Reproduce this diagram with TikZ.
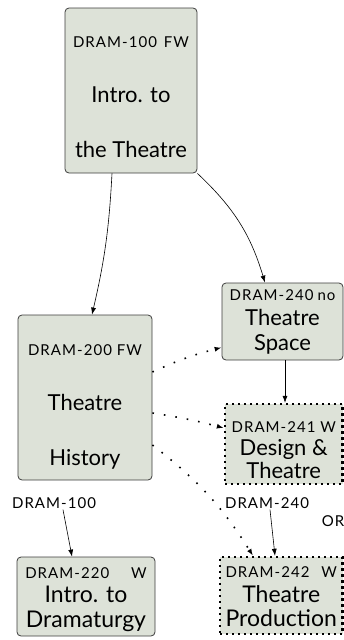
\documentclass[tikz,border=0pt]{standalone}
\usepackage{fontspec}
\setmainfont{Lato}
\usepackage{xcolor}
\usepackage{tikz}
\usetikzlibrary{arrows.meta, positioning}

\definecolor{boxfill}{RGB}{221,226,216}
\definecolor{boxline}{RGB}{60,60,60}

\newcommand{\crsfont}{\fontsize{15}{17}\selectfont\addfontfeature{LetterSpace=7}}
\newcommand{\crsid}[1]{{\crsfont#1}}
\newcommand{\tallstrut}[1]{\rule{0pt}{#1pt}}
\newcommand{\deepstrut}{\rule[-6pt]{0pt}{6pt}}

\begin{document}
\begin{tikzpicture}[x=1pt, y=-1pt, >={Latex[length=7pt, width=5pt]}]
		\tikzstyle{course} = [draw=boxline, fill=boxfill, rounded corners=4pt, line width=0.8pt, inner sep=0pt, align=center]
		\tikzstyle{coreq} = [course, draw=black, line width=2.4pt, dash pattern=on 2.4pt off 3.6pt, rounded corners=0pt]
		\tikzstyle{invis} = [draw=none, inner sep=1pt, font=\crsfont]
		\tikzstyle{arrow} = [->, line width=0.6pt]
		\tikzstyle{weak} = [->, line width=1.6pt, dash pattern=on 1.6pt off 10pt]
		
		\useasboundingbox (0, 0) rectangle (344, 640);
		
		\node[course, font=\fontsize{22}{55}\selectfont, minimum width=132, minimum height=165] at (131, 90.5) (d100)
			{\tallstrut{30}\crsid{DRAM-100\hspace{7pt}FW}\\Intro. to\\the Theatre\deepstrut};
		\node[course, font=\fontsize{22}{55}\selectfont, minimum width=134, minimum height=165] at (85, 397.5) (d200)
			{\tallstrut{31}\crsid{DRAM-200\hspace{5pt}FW}\\Theatre\\History\deepstrut};
		\node[course, font=\fontsize{22}{25}\selectfont, minimum width=121, minimum height=77] at (282.5, 321.5) (d240)
			{\tallstrut{13}\crsid{DRAM-240\hspace{4pt}no}\\Theatre\\Space\deepstrut};
		\node[coreq, font=\fontsize{22}{23}\selectfont, minimum width=117.5, minimum height=78] at (283.75, 444) (d241)
			{\tallstrut{28}\crsid{DRAM-241 W}\\Design \&\\Theatre\deepstrut};
		\node[course, font=\fontsize{23}{24.5}\selectfont, minimum width=138, minimum height=79] at (86, 596.5) (d220)
			{\tallstrut{18}\crsid{DRAM-220\hspace{22pt}W}\\Intro. to\\Dramaturgy\deepstrut};
		\node[coreq, font=\fontsize{23}{24.5}\selectfont, minimum width=122.5, minimum height=77] at (281.25, 595.5) (d242)
			{\tallstrut{19}\crsid{DRAM-242\hspace{12pt}W}\\Theatre\\Production\deepstrut};
		
		\node[invis]	at (54, 503)	(pre220)	{DRAM-100};
		\node[invis]	at (267, 503)	(pre242)	{DRAM-240};
		\node[invis]	at (333, 521)	(or242)		{OR};
		
		\path[arrow]
		([xshift=-19]d100.south)	edge 	[bend left=5]	([xshift=7]d200.north)
		(d100.south east)			edge 	[bend left=15]	([xshift=-17.5]d240.north)
		([xshift=2.5]d240.south)	edge 					([xshift=1.25]d241.north)
		([xshift=9]pre220.south)	edge 					([xshift=-14]d220.north)
		([xshift=3]pre242.south)	edge 					([xshift=-6.25]d242.north);
		
		\path[weak]
		([yshift=25.5]d200.east)	edge 	[bend left=5]	([yshift=-26]d240.west)
		([yshift=-15.5]d200.east)	edge 	[bend left=3]	([yshift=16]d241.west)
		([yshift=-47.5]d200.east)	edge 	[bend left=10]	([xshift=-28.25]d242.north);
	\end{tikzpicture}
\end{document}
